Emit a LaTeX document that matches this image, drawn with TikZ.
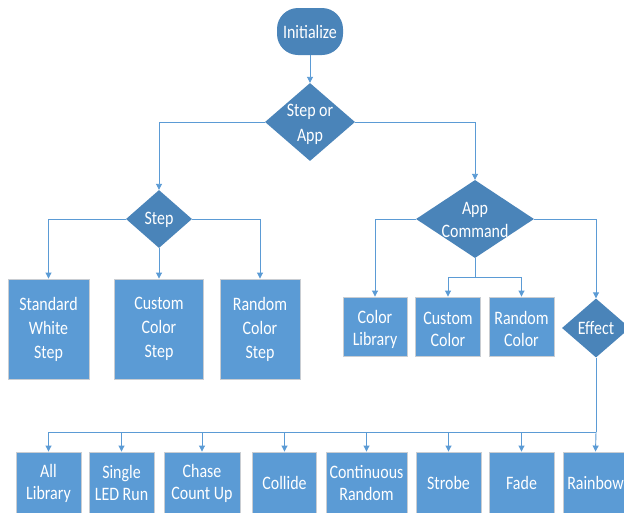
\documentclass[tikz,border=0pt]{standalone}
\usepackage{fontspec}
\setmainfont{Carlito}[FakeStretch=0.84]
\usetikzlibrary{shapes.geometric,arrows.meta}
\definecolor{boxblue}{HTML}{5B9BD5}
\definecolor{decblue}{HTML}{4A84B9}
\definecolor{linkblue}{HTML}{5B9BD5}
\definecolor{rimgray}{HTML}{C9CDD2}
\tikzset{
  txt/.style={font=\fontsize{19}{22}\selectfont, text=white, align=center},
  procbox/.style={txt, draw=rimgray, line width=0.9pt, fill=boxblue, inner sep=0pt},
  decision/.style={diamond, fill=decblue, draw=none, inner sep=0pt},
  dlabel/.style={txt},
  link/.style={draw=linkblue, line width=0.9pt},
  arr/.style={link, -{Triangle[length=6pt,width=6pt]}},
}
\begin{document}
\begin{tikzpicture}[x=1pt,y=-1pt]
\clip (0,0) rectangle (624,512);
\fill[white] (0,0) rectangle (624,512);

% start
\node[txt, fill=decblue, rounded corners=21pt, minimum width=66pt, minimum height=47pt, inner sep=0pt] (init) at (310,31.5) {Initialize};

% decisions
\node[decision, minimum width=90pt, minimum height=78pt,
  label={[dlabel, font=\fontsize{19}{25}\selectfont, yshift=-2pt]center:Step or\\App}] (sa) at (310,122) {};
\node[decision, minimum width=66pt, minimum height=58pt,
  label={[dlabel, yshift=-1pt]center:Step}] (step) at (159,219) {};
\node[decision, minimum width=118pt, minimum height=78pt,
  label={[dlabel, font=\fontsize{19}{23}\selectfont, yshift=-1pt]center:App\\Command}] (app) at (475,219) {};
\node[decision, minimum width=68pt, minimum height=59pt,
  label={[dlabel]center:Effect}] (eff) at (596,328) {};

% step boxes
\node[procbox, font=\fontsize{19}{24}\selectfont, minimum width=81pt, minimum height=100pt] (sw) at (48.5,329) {Standard\\White\\Step};
\node[procbox, font=\fontsize{19}{24}\selectfont, minimum width=89pt, minimum height=100pt] (ccs) at (159,329) {Custom\\Color\\Step};
\node[procbox, font=\fontsize{19}{24}\selectfont, minimum width=80pt, minimum height=100pt] (rcs) at (260,329) {Random\\Color\\Step};

% app boxes (text lowered slightly via centred labels)
\node[procbox, minimum width=64pt, minimum height=59pt,
  label={[txt, yshift=-2.5pt]center:Color\\Library}] (cl) at (375,326.5) {};
\node[procbox, minimum width=65pt, minimum height=59pt,
  label={[txt, yshift=-2.5pt]center:Custom\\Color}] (cc) at (448,326.5) {};
\node[procbox, minimum width=65pt, minimum height=59pt,
  label={[txt, yshift=-2.5pt]center:Random\\Color}] (rc) at (521.5,326.5) {};

% effect boxes
\node[procbox, minimum width=65pt, minimum height=62pt] (al) at (48.5,483) {All\\Library};
\node[procbox, minimum width=65pt, minimum height=62pt] (sl) at (121.5,483) {Single\\LED Run};
\node[procbox, minimum width=76pt, minimum height=62pt] (ch) at (202,483) {Chase\\Count Up};
\node[procbox, minimum width=64pt, minimum height=62pt] (co) at (284.5,483) {Collide};
\node[procbox, minimum width=81pt, minimum height=62pt] (cr) at (366.5,483) {Continuous\\Random};
\node[procbox, minimum width=65pt, minimum height=62pt] (st) at (448.5,483) {Strobe};
\node[procbox, minimum width=65pt, minimum height=62pt] (fa) at (521.5,483) {Fade};
\node[procbox, minimum width=65pt, minimum height=62pt] (rb) at (595.5,483) {Rainbow};

% junctions
\coordinate (j1) at (app.south |- 0,277);
\coordinate (j2) at (eff.south |- 0,432);

% connectors
\draw[arr] (init.south) -- (sa.north);
\draw[arr] (sa.west) -| (step.north);
\draw[arr] (sa.east) -| (app.north);

\draw[arr] (step.west) -| (sw.north);
\draw[arr] (step.south) -- (ccs.north);
\draw[arr] (step.east) -| (rcs.north);

\draw[arr] (app.west) -| (cl.north);
\draw[arr] (app.east) -| (eff.north);
\draw[link] (app.south) -- (j1);
\draw[arr] (j1) -| (cc.north);
\draw[arr] (j1) -| (rc.north);

\draw[link] (eff.south) -- (j2);
\draw[arr] (j2) -- (rb.north);
\draw[arr] (j2) -| (fa.north);
\draw[arr] (j2) -| (st.north);
\draw[arr] (j2) -| (cr.north);
\draw[arr] (j2) -| (co.north);
\draw[arr] (j2) -| (ch.north);
\draw[arr] (j2) -| (sl.north);
\draw[arr] (j2) -| (al.north);
\end{tikzpicture}
\end{document}
